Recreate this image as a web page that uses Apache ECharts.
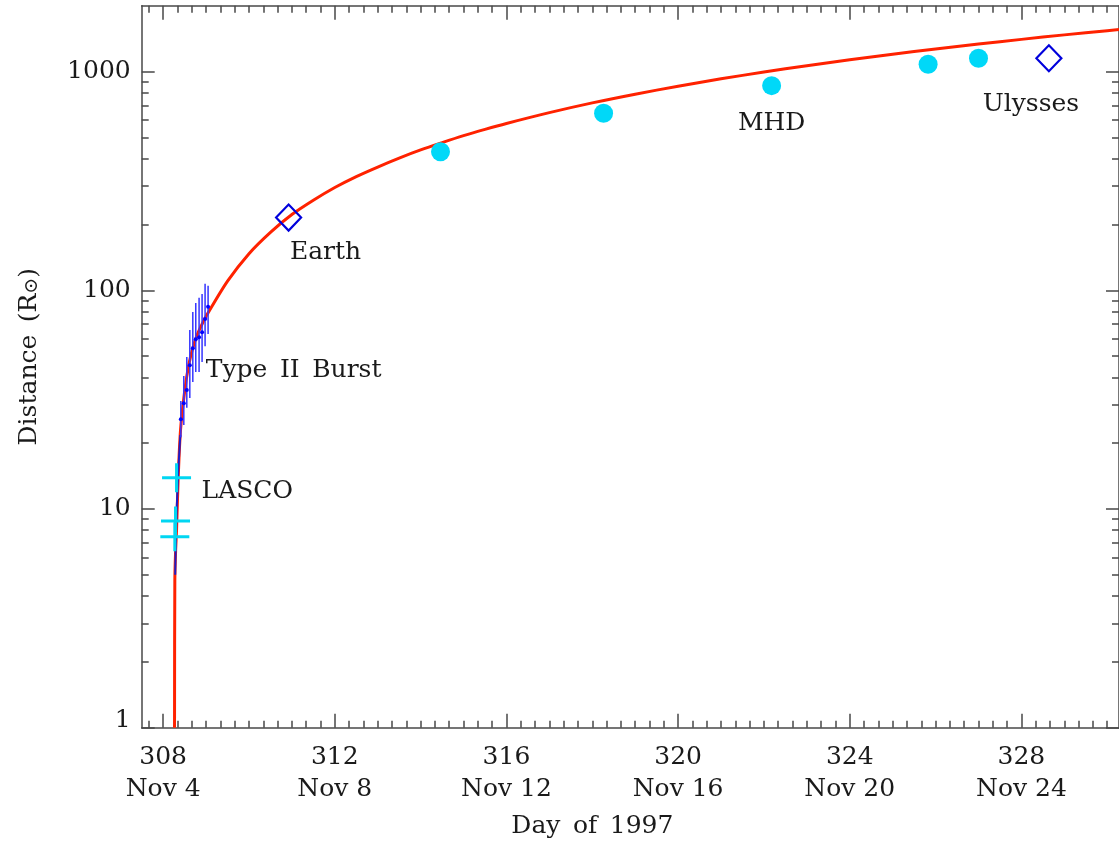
<!DOCTYPE html>
<html>
<head>
<meta charset="utf-8">
<script src="https://cdn.jsdelivr.net/npm/echarts@6/dist/echarts.min.js"></script>
<style>
  html, body { margin: 0; padding: 0; background: #fff; }
  #chart { width: 1119px; height: 845px; }
</style>
</head>
<body>
<div id="chart"></div>
<script>
// Axis ticks
const dayTicks = [308, 312, 316, 320, 324, 328];
const dateTicks = ['Nov 4', 'Nov 8', 'Nov 12', 'Nov 16', 'Nov 20', 'Nov 24'];
const distTicks = [1, 10, 100, 1000];
const distMinorTicks = [2, 3, 4, 5, 6, 7, 8, 9, 20, 30, 40, 50, 60, 70, 80, 90,
  200, 300, 400, 500, 600, 700, 800, 900];

// Kinematic fit of the shock front (day of year, solar radii)
const fitDay  = [308.265, 308.272, 308.29, 308.312, 308.349, 308.405, 308.505, 308.6, 308.698, 308.8,
  308.93, 309.0, 309.5, 310.0, 310.5, 311.0, 311.5, 312.0, 312.5, 313.0, 313.5, 314.0, 314.5,
  315.0, 315.5, 316.0, 317.0, 318.0, 319.0, 320.0, 321.0, 322.0, 323.0, 324.0, 325.0, 326.0,
  327.0, 328.0, 329.0, 330.0, 331.0];
const fitDist = [1.0, 4.7, 6.4, 8.0, 13.6, 23.0, 35.0, 46.0, 55.0, 63.0,
  71.5, 76.0, 110, 147, 184, 222, 258, 295, 331, 366, 402, 438, 473,
  509, 544, 579, 649, 719, 788, 857, 926, 995, 1063, 1132, 1200, 1268,
  1336, 1403, 1471, 1538, 1605];

// Low-corona track
const trackDay  = [308.281, 308.295, 308.319, 308.353, 308.40];
const trackDist = [5.0, 7.2, 10.4, 15.1, 21.8];

// LASCO coronagraph heights
const lascoDay  = [308.312, 308.288, 308.272];
const lascoDist = [13.9, 8.81, 7.47];

// Type II radio burst heights with uncertainty range
const burstDay  = [308.412, 308.481, 308.551, 308.621, 308.691, 308.760, 308.837, 308.907, 308.977, 309.047];
const burstDist = [25.7, 30.4, 35.0, 45.4, 54.3, 59.7, 61.0, 64.3, 73.9, 84.1];
const burstLow  = [21.3, 24.2, 29.0, 32.2, 38.1, 42.3, 42.3, 47.0, 55.5, 63.1];
const burstHigh = [31.2, 40.6, 49.5, 65.8, 79.6, 87.5, 92.3, 96.2, 107, 105];

// MHD simulation arrival
const mhdDay  = [314.463, 318.263, 322.179, 325.826, 327.0];
const mhdDist = [430, 645, 862, 1080, 1150];

// Spacecraft detections
const craftName = ['Earth', 'Ulysses'];
const craftDay  = [310.923, 328.64];
const craftDist = [215, 1150];

const FONT = 'DejaVu Serif';
const TEXT = '#1a1a1a';
const AXIS = '#484848';
const FS = 25;

const minorDays = [];
for (let d = 307 + 2 / 3; d < 330.3; d += 1 / 3) {
  if (Math.abs(d - Math.round(d / 4) * 4) > 1e-6) minorDays.push(+d.toFixed(4));
}

const X_MIN = 307.5, X_MAX = 330.274;

function xAxisDef(position, values, len, withLine, withLabels) {
  return {
    type: 'value', position, min: X_MIN, max: X_MAX,
    splitLine: { show: false },
    axisLine: { show: withLine, onZero: false, lineStyle: { color: AXIS, width: 1.5 } },
    axisTick: { show: true, inside: true, length: len, customValues: values,
      lineStyle: { color: AXIS, width: 1.5 } },
    axisLabel: withLabels ? {
      customValues: dayTicks, margin: 14, color: TEXT, fontFamily: FONT, fontSize: FS,
      lineHeight: 32,
      formatter: v => {
        const i = dayTicks.indexOf(Math.round(v));
        return Math.round(v) + '\n' + dateTicks[i];
      }
    } : { show: false }
  };
}

function yAxisDef(position, values, len, withLine, withLabels) {
  return {
    type: 'log', logBase: 10, position, min: 1, max: 2000,
    splitLine: { show: false },
    axisLine: { show: withLine, onZero: false, lineStyle: { color: AXIS, width: 1.5 } },
    axisTick: { show: true, inside: true, length: len, customValues: values,
      lineStyle: { color: AXIS, width: 1.5 } },
    axisLabel: withLabels ? {
      customValues: distTicks, margin: 11, color: TEXT, fontFamily: FONT, fontSize: FS,
      formatter: v => {
        const n = Math.round(v);
        return n === distTicks[0] ? '{lo|' + n + '}' : String(n);
      },
      rich: { lo: { fontFamily: FONT, fontSize: FS, color: TEXT, padding: [0, 0, 14, 0] } }
    } : { show: false }
  };
}

const xAxes = [
  xAxisDef('bottom', dayTicks, 14, true, true),
  xAxisDef('bottom', minorDays, 7, false, false),
  xAxisDef('top', dayTicks, 14, true, false),
  xAxisDef('top', minorDays, 7, false, false)
];
Object.assign(xAxes[0], {
  name: 'Day\u2002of\u20021997', nameLocation: 'middle', nameGap: 86,
  nameTextStyle: { color: TEXT, fontFamily: FONT, fontSize: FS, padding: [0, 76, 0, 0] }
});

const yAxes = [
  yAxisDef('left', distTicks, 13, true, true),
  yAxisDef('left', distMinorTicks, 7, false, false),
  yAxisDef('right', distTicks, 13, true, false),
  yAxisDef('right', distMinorTicks, 7, false, false)
];
Object.assign(yAxes[0], {
  name: '{a|Distance\u2002(R}{s|⊙}{a|)}', nameLocation: 'middle', nameGap: 100,
  nameTextStyle: {
    color: TEXT, fontFamily: FONT, fontSize: FS, padding: [0, 0, 0, 20],
    rich: {
      a: { fontFamily: FONT, fontSize: FS, color: TEXT },
      s: { fontFamily: FONT, fontSize: 19, color: TEXT, verticalAlign: 'bottom' }
    }
  }
});

const noteStyle = { show: true, position: 'inside', color: TEXT, fontFamily: FONT, fontSize: FS,
  textBorderWidth: 0, textBorderColor: 'transparent' };

function zip() {
  const cols = Array.from(arguments);
  return cols[0].map((_, i) => cols.map(c => c[i]));
}

const chart = echarts.init(document.getElementById('chart'), null, { renderer: 'canvas' });
chart.setOption({
  animation: false,
  backgroundColor: '#fff',
  grid: { left: 141.7, top: 5.7, width: 979.3, height: 722 },
  xAxis: xAxes,
  yAxis: yAxes,
  series: [
    {
      name: 'Fit', type: 'line', z: 2,
      data: zip(fitDay, fitDist), showSymbol: false, smooth: 0.3,
      lineStyle: { color: '#ff2200', width: 3 }
    },
    {
      name: 'Track', type: 'line', z: 3,
      data: zip(trackDay, trackDist), showSymbol: false,
      lineStyle: { color: '#1c1cc8', width: 2 }
    },
    {
      name: 'Type II range', type: 'custom', z: 4,
      data: zip(burstDay, burstLow, burstHigh),
      encode: { x: 0, y: [1, 2] },
      renderItem: (params, api) => {
        const a = api.coord([api.value(0), api.value(1)]);
        const b = api.coord([api.value(0), api.value(2)]);
        return { type: 'line', shape: { x1: a[0], y1: a[1], x2: b[0], y2: b[1] },
          style: { stroke: '#3434ff', lineWidth: 1.5 } };
      }
    },
    {
      name: 'Type II Burst', type: 'scatter', z: 5,
      symbol: 'circle', symbolSize: 4,
      itemStyle: { color: '#0000ff', opacity: 1 },
      data: burstDay.map((d, i) => i === 3
        ? { value: [d, burstDist[i]], label: Object.assign({}, noteStyle, { formatter: 'Type\u2002II\u2002Burst', align: 'left', offset: [16, 5] }) }
        : [d, burstDist[i]])
    },
    {
      name: 'LASCO', type: 'scatter', z: 6,
      symbol: 'path://M0,10 L20,10 M10,0 L10,20', symbolSize: 29,
      itemStyle: { color: 'rgba(0,0,0,0)', borderColor: '#00d6f2', borderWidth: 3, opacity: 1 },
      data: lascoDay.map((d, i) => i === 0
        ? { value: [d, lascoDist[i]], label: Object.assign({}, noteStyle, { formatter: 'LASCO', align: 'left', offset: [25, 14] }) }
        : [d, lascoDist[i]])
    },
    {
      name: 'MHD', type: 'scatter', z: 6,
      symbol: 'circle', symbolSize: 19,
      itemStyle: { color: '#00d8f8', opacity: 1 },
      data: mhdDay.map((d, i) => i === 2
        ? { value: [d, mhdDist[i]], label: Object.assign({}, noteStyle, { formatter: 'MHD', offset: [0, 38] }) }
        : [d, mhdDist[i]])
    },
    {
      name: 'Spacecraft', type: 'scatter', z: 7,
      symbol: 'diamond', symbolSize: [25, 26],
      itemStyle: { color: 'rgba(0,0,0,0)', borderColor: '#0000dc', borderWidth: 2.2, opacity: 1 },
      data: craftDay.map((d, i) => ({
        value: [d, craftDist[i]],
        label: Object.assign({}, noteStyle, { formatter: craftName[i],
          offset: i === 0 ? [37, 35] : [-18, 46] })
      }))
    }
  ]
});
</script>
</body>
</html>
